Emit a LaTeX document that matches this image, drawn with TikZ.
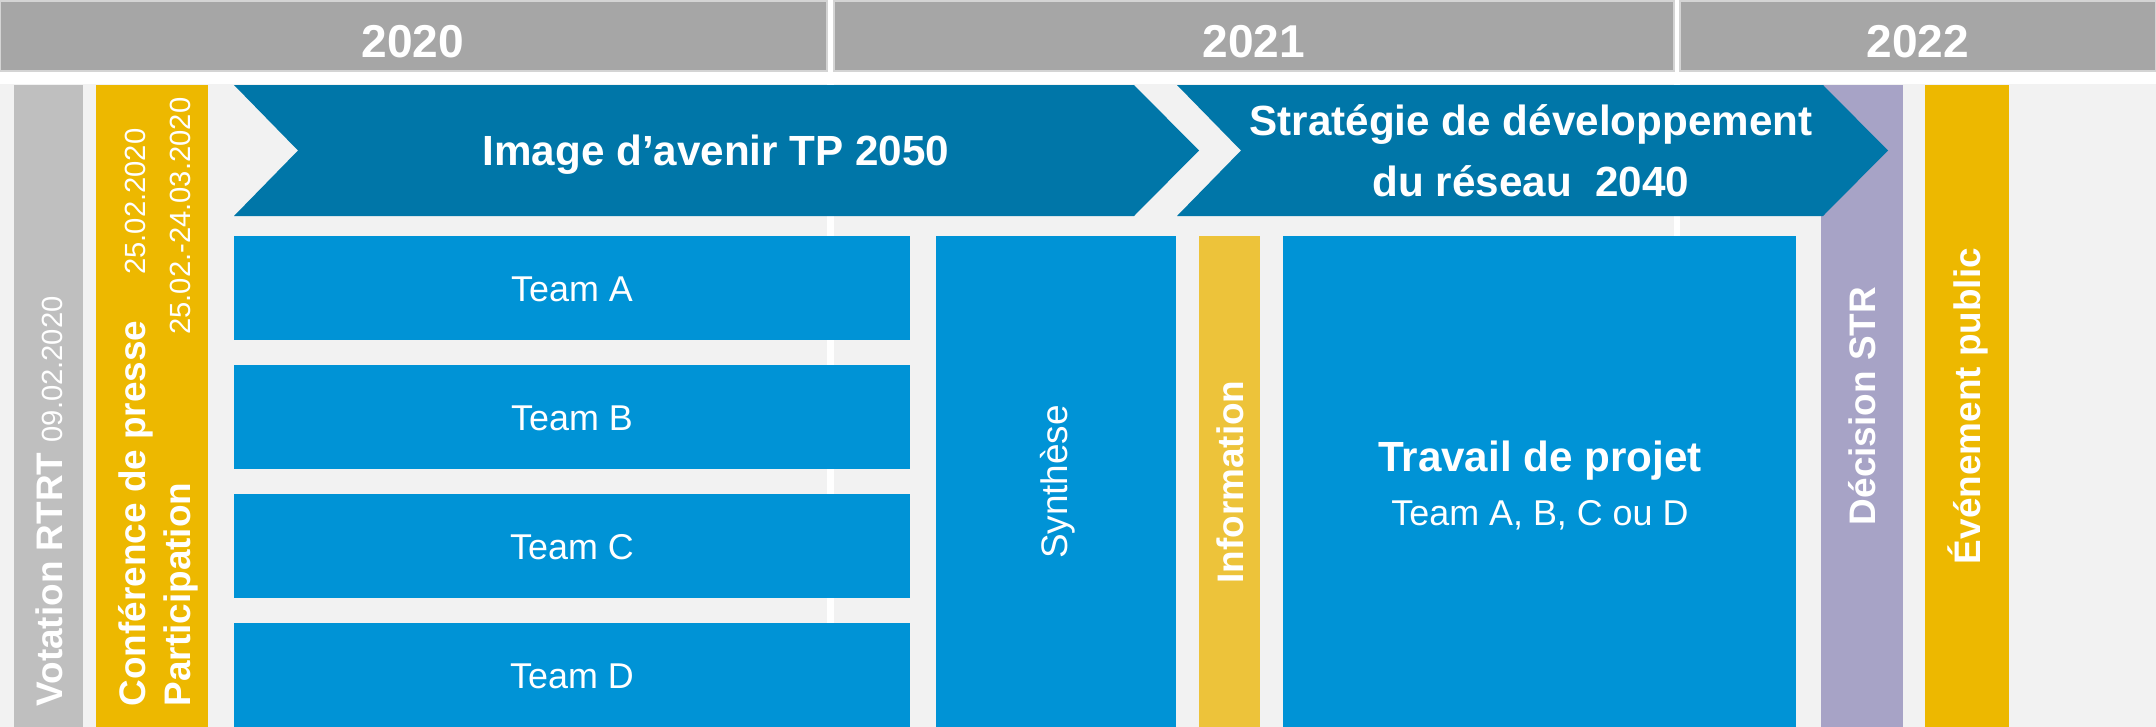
\documentclass[tikz,border=0pt]{standalone}
\usepackage{fontspec}
\setmainfont{Liberation Sans}
\definecolor{yeargray}{HTML}{A6A6A6}
\definecolor{yearline}{HTML}{D4D4D4}
\definecolor{bggray}{HTML}{F2F2F2}
\definecolor{votegray}{HTML}{BFBFBF}
\definecolor{gold}{HTML}{EDB800}
\definecolor{infoyellow}{HTML}{EDC33A}
\definecolor{lilac}{HTML}{A7A3C6}
\definecolor{deepblue}{HTML}{0076A8}
\definecolor{sky}{HTML}{0093D6}
\newcommand{\datefont}{\fontsize{8.3}{10}\selectfont\mdseries}

\begin{document}
\begin{tikzpicture}[x=0.01cm, y=-0.01cm,
    lbl/.style={text=white, inner sep=0pt},
    yr/.style={lbl, anchor=base, font=\fontsize{13.1}{16}\selectfont\bfseries},
    ttl/.style={lbl, anchor=base, font=\fontsize{12}{14}\selectfont\bfseries},
    txt/.style={lbl, anchor=base, font=\fontsize{10.2}{12}\selectfont},
    vtxt/.style={lbl, rotate=90, font=\fontsize{10.5}{12}\selectfont\bfseries},
    yrcell/.style={fill=yeargray, draw=yearline, line width=0.6pt}]
    \useasboundingbox (0,0) rectangle (2156,727);
    \fill[white] (0,0) rectangle (2156,727);
    \fill[bggray] (0,84) rectangle (2156,727);
    \fill[white] (827,71) rectangle (834,727);
    \fill[white] (1674,71) rectangle (1680,727);
    \draw[yrcell] (0,1) rectangle (827,71);
    \draw[yrcell] (834,1) rectangle (1674,71);
    \draw[yrcell] (1680,1) rectangle (2156,71);
    \node[yr] (y2020) at (413,57) {2020};
    \node[yr] (y2021) at (1254,57) {2021};
    \node[yr] (y2022) at (1918,57) {2022};

    \fill[votegray] (14,85) rectangle (83,727);
    \fill[gold] (96,85) rectangle (208,727);
    \fill[lilac] (1821,85) rectangle (1903,727);
    \fill[gold] (1925,85) rectangle (2009,727);
    \fill[infoyellow] (1199,236) rectangle (1260,727);
    \fill[sky] (936,236) rectangle (1176,727);
    \fill[sky] (1283,236) rectangle (1796,727);
    \foreach \t/\y in {A/236,B/365,C/494,D/623} {
        \fill[sky] (234,\y) rectangle (910,\y+104);
        \node[txt] (team\t) at (572,\y+65) {Team \t};
    }

    \fill[deepblue] (234,85) -- (1134,85) -- (1199,150.5) -- (1134,216) -- (234,216) -- (298,150.5) -- cycle;
    \fill[deepblue] (1177,85) -- (1823,85) -- (1888,150.5) -- (1823,216) -- (1177,216) -- (1241,150.5) -- cycle;
    \node[ttl] (vision) at (716,165) {Image d’avenir TP 2050};
    \node[ttl] (strat1) at (1531,135) {Stratégie de développement};
    \node[ttl] (strat2) at (1531,196) {du réseau\ \ 2040};

    \node[vtxt, anchor=base west] (vote) at (62,707) {Votation RTRT {\datefont 09.02.2020}};
    \node[vtxt, anchor=base west] (press) at (145,707) {Conférence de presse};
    \node[lbl, rotate=90, anchor=base east, font=\datefont] (pressdate) at (145,128) {25.02.2020};
    \node[vtxt, anchor=base west] (part) at (190,707) {Participation};
    \node[lbl, rotate=90, anchor=base east, font=\datefont] (partdate) at (190,97) {25.02.-24.03.2020};

    \node[lbl, rotate=90, anchor=base, font=\fontsize{10.5}{12}\selectfont] (synth) at (1067,482) {Synthèse};
    \node[vtxt, anchor=base] (info) at (1243,482) {Information};
    \node[ttl] (work) at (1540,471) {Travail de projet};
    \node[txt] (workteams) at (1540,525) {Team A, B, C ou D};
    \node[vtxt, anchor=base] (decision) at (1875,406) {Décision STR};
    \node[vtxt, anchor=base] (event) at (1980,406) {Événement public};
\end{tikzpicture}
\end{document}
